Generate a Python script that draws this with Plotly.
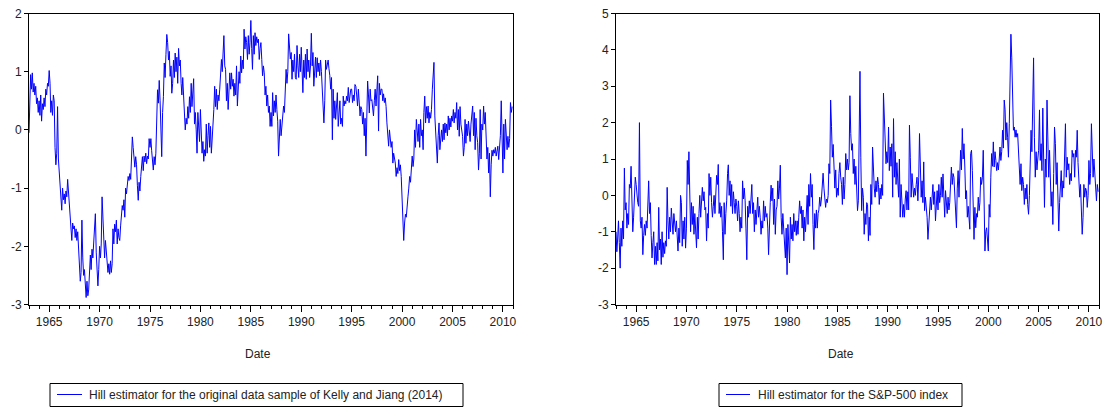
import pandas as pd
import plotly.graph_objects as go

# ---------------- data (monthly readings, Jan 1963 - Dec 2010) ----------------
start_date = "1963-01-01"
obs_freq = "MS"

hill_kelly_jiang = [
    -0.05, 0.85, 0.95, 0.7, 0.98, 0.65, 0.8, 0.6, 0.75, 0.45, 0.55, 0.3,          # 1963
    0.5, 0.25, 0.6, 0.15, 0.45, 0.35, 0.55, 0.4, 0.7, 0.6, 0.8, 0.75,             # 1964
    1.02, 0.8, 0.3, 0.5, 0.25, 0.6, 0.5, -0.3, -0.6, -0.4, 0.4, -0.5,             # 1965
    -0.75, -0.9, -1.05, -1.38, -1.0, -1.2, -1.1, -1.27, -1.05, -1.15, -0.85, -1.1,  # 1966
    -1.15, -1.5, -1.75, -1.9, -1.6, -1.7, -1.65, -1.85, -1.7, -1.9, -1.75, -2.0,  # 1967
    -2.3, -2.6, -2.45, -1.55, -2.2, -2.5, -2.4, -2.7, -2.88, -2.6, -2.85, -2.75,  # 1968
    -2.5, -2.15, -2.4, -2.05, -2.2, -2.0, -1.8, -1.44, -2.1, -2.55, -2.68, -2.4,  # 1969
    -2.0, -2.2, -1.96, -1.15, -1.6, -1.84, -2.2, -1.9, -2.1, -2.2, -2.45, -2.3,   # 1970
    -2.48, -2.25, -2.45, -2.3, -1.7, -1.96, -1.62, -1.75, -1.55, -1.96, -1.7, -1.85,  # 1971
    -1.9, -1.65, -1.45, -1.3, -1.38, -1.2, -1.5, -1.0, -1.1, -0.95, -0.8, -0.87,  # 1972
    -0.75, -0.85, -0.6, -0.12, -0.3, -0.55, -0.64, -0.46, -0.6, -0.95, -1.21, -0.9,  # 1973
    -1.05, -0.8, -0.6, -0.46, -0.7, -0.45, -0.55, -0.4, -0.58, -0.45, -0.5, -0.15,  # 1974
    -0.3, -0.15, -0.35, -0.5, -0.69, -0.46, -0.6, -0.4, 0.1, 0.69, 0.46, 0.85,    # 1975
    0.5, 0.11, -0.46, 0.3, 0.57, 1.15, 0.9, 1.3, 1.64, 1.5, 1.2, 1.35,            # 1976
    0.92, 1.1, 0.63, 0.8, 1.2, 0.9, 1.32, 1.0, 1.25, 0.8, 1.4, 1.1,               # 1977
    1.2, 0.8, 0.6, 0.9, 0.46, 0.29, 0.0, 0.2, 0.1, 0.4, 0.2, 0.57,                # 1978
    0.3, 0.8, 0.4, 0.6, 0.88, 0.1, 0.3, 0.0, -0.4, 0.3, 0.1, -0.2,                # 1979
    0.35, -0.1, -0.4, -0.2, -0.54, -0.34, -0.45, 0.1, -0.4, -0.1, 0.12, -0.3,     # 1980
    0.06, -0.4, -0.2, 0.0, 0.35, 0.75, 0.4, 0.7, 0.35, 0.6, 0.5, 0.7,             # 1981
    0.93, 1.21, 1.0, 1.3, 1.62, 1.1, 1.04, 0.5, 0.8, 0.35, 0.9, 0.98,             # 1982
    0.7, 0.98, 0.75, 0.87, 0.58, 0.8, 0.6, 1.1, 0.41, 0.9, 1.0, 0.8,              # 1983
    1.27, 0.98, 1.2, 1.05, 1.73, 1.39, 1.6, 1.5, 1.21, 1.62, 1.3, 1.5,            # 1984
    1.88, 1.4, 1.04, 1.62, 1.3, 1.67, 1.45, 1.6, 1.5, 1.56, 1.21, 1.4,            # 1985
    1.5, 1.21, 0.93, 1.1, 0.98, 0.6, 0.75, 0.41, 0.6, 0.3, 0.41, 0.06,            # 1986
    0.3, 0.06, 0.64, 0.24, 0.5, 0.3, 0.6, 0.35, 0.15, -0.45, 0.0, 0.18,           # 1987
    -0.1, 0.1, 0.18, 0.41, 0.3, 0.75, 1.04, 0.8, 1.0, 1.65, 1.3, 1.22,            # 1988
    1.33, 0.87, 1.2, 1.0, 1.3, 0.9, 0.87, 1.45, 1.1, 0.9, 1.3, 1.0,               # 1989
    1.42, 1.0, 0.64, 1.2, 0.9, 1.3, 0.87, 1.39, 1.0, 1.2, 0.9, 1.1,               # 1990
    1.66, 1.1, 1.33, 0.75, 1.0, 1.25, 0.9, 1.24, 1.0, 1.15, 0.93, 1.2,            # 1991
    1.0, 0.75, 0.3, 0.12, 0.5, 1.2, 1.04, 1.1, 1.2, 1.05, 0.93, 0.7,              # 1992
    0.9, -0.17, 0.7, 0.2, 0.5, 0.18, 0.4, 0.64, 0.06, 0.3, 0.5, 0.1,              # 1993
    0.2, 0.06, 0.58, 0.41, 0.5, 0.45, 0.58, 0.5, 0.73, 0.47, 0.6, 0.7,            # 1994
    0.7, 0.47, 0.6, 0.5, 0.78, 0.75, 0.6, 0.41, 0.7, 0.5, 0.24, 0.4,              # 1995
    0.35, 0.1, 0.3, -0.1, 0.2, -0.45, 0.0, 0.84, 0.6, 0.29, 0.7, 0.5,             # 1996
    0.52, 0.3, 0.24, 0.5, 0.7, 0.41, 0.6, 0.93, -0.02, 0.8, 0.6, 0.7,             # 1997
    0.7, 0.5, 0.62, 0.47, 0.55, 0.4, 0.12, -0.1, -0.28, 0.0, -0.11, -0.3,         # 1998
    -0.2, -0.57, -0.4, -0.5, -0.57, -0.8, -0.65, -0.75, -0.51, -0.7, -0.6, -0.8,  # 1999
    -1.15, -1.55, -1.9, -1.6, -1.45, -1.5, -1.38, -1.15, -1.0, -0.8, -0.9, -0.6,  # 2000
    -0.45, -0.63, -0.5, 0.0, -0.3, 0.18, -0.1, -0.2, 0.1, -0.3, 0.18, -0.1,       # 2001
    0.0, -0.34, 0.3, 0.58, 0.12, 0.4, 0.2, 0.41, 0.12, 0.3, 0.2, 0.35,            # 2002
    0.7, 0.9, 1.16, 0.24, 0.0, -0.3, -0.57, -0.1, 0.12, -0.34, -0.1, 0.0,         # 2003
    -0.2, 0.1, -0.17, 0.12, -0.05, 0.1, -0.1, 0.24, 0.0, 0.2, 0.05, 0.24,         # 2004
    0.15, 0.35, 0.12, 0.3, 0.2, 0.47, 0.0, 0.35, -0.11, 0.4, 0.1, -0.05,          # 2005
    -0.11, -0.45, -0.3, 0.18, -0.23, 0.1, -0.1, 0.15, 0.0, -0.2, 0.1, 0.3,        # 2006
    0.41, -0.1, 0.3, -0.34, 0.2, -0.1, -0.22, -0.69, -0.4, 0.35, -0.5, 0.1,       # 2007
    0.0, 0.41, 0.1, 0.3, -0.11, -0.5, -0.3, -0.74, -0.4, -1.15, -0.6, -0.35,      # 2008
    -0.45, -0.34, -0.4, -0.3, -0.45, -0.35, -0.28, -0.51, -0.3, -0.1, 0.5, -0.2,  # 2009
    -0.74, 0.1, -0.5, 0.18, -0.2, -0.34, -0.11, -0.3, -0.15, 0.47, 0.3, 0.4,      # 2010
]

hill_sp500 = [
    -1.0, -1.55, -1.2, -0.7, -1.3, -2.0, -0.9, -1.4, -0.7, -1.2, 0.75, -0.4,      # 1963
    -0.2, -0.9, -0.5, -0.8, 0.3, 0.2, 0.8, -0.1, -1.0, -0.6, 0.0, 0.5,            # 1964
    0.3, 0.0, -0.2, -0.3, 2.0, -0.7, -0.9, -0.6, -1.63, -1.1, -0.8, -1.1,         # 1965
    -0.7, -0.9, -0.3, 0.4, -0.5, -0.2, -1.1, -1.72, -1.3, -1.0, -1.9, -1.4,       # 1966
    -1.9, -1.3, -1.8, -0.33, -1.5, -1.2, -1.9, -1.0, -1.7, -1.3, -1.6, -1.25,     # 1967
    -1.4, 0.22, -0.7, -1.2, -0.6, -1.0, -0.35, -0.9, -1.07, -0.5, -0.8, -1.0,     # 1968
    -0.7, -1.2, -1.53, -0.9, -1.3, 0.0, -0.2, -1.4, -0.7, -1.2, -0.6, -1.45,      # 1969
    -0.9, 0.96, 0.3, 1.2, -0.5, -1.0, -0.2, -0.8, -0.3, -1.07, -0.5, -1.2,        # 1970
    -1.44, -0.6, -1.2, -0.5, 0.0, -0.6, -0.3, 0.22, -0.15, 0.1, -0.4, -0.33,      # 1971
    -1.25, -0.5, -0.9, 0.6, 0.0, 0.5, -0.2, -0.6, -0.3, 0.0, -0.5, 0.2,           # 1972
    0.55, 0.3, 0.85, -0.5, -0.2, -0.6, -0.3, -1.0, -1.77, -0.2, -1.07, -0.5,      # 1973
    -0.15, 0.6, 0.84, 0.0, 0.4, -0.3, 0.3, -0.5, 0.1, -0.2, -0.5, -0.1,           # 1974
    -0.3, -0.7, -0.15, -0.5, -1.0, -0.6, -0.9, 0.4, -0.1, 0.2, -0.15, -0.9,       # 1975
    -1.77, -0.3, -0.6, -0.15, -0.5, -0.1, 0.3, -0.5, -0.2, -1.0, -0.4, -0.8,      # 1976
    -0.5, -0.05, -0.6, -0.3, -0.6, -1.07, -0.7, -0.9, -0.15, -0.7, -0.3, -0.6,    # 1977
    -0.5, -0.9, -1.63, -0.6, -0.2, 0.28, -0.15, 0.2, -0.8, -0.1, -1.07, -0.4,     # 1978
    -0.3, 0.4, -0.1, 0.2, 0.83, -0.6, -1.07, -0.5, -0.9, -1.2, -1.72, -0.9,       # 1979
    -2.18, -0.8, -1.5, -1.86, -0.6, -1.2, -0.8, -1.25, -0.5, -1.0, -0.7, -1.1,    # 1980
    -0.7, -1.07, -0.6, -0.15, -0.5, -0.3, -0.9, -0.4, -1.25, -0.6, -1.0, -0.4,    # 1981
    0.0, -0.8, 0.3, -0.3, 0.6, -0.05, 0.3, -0.8, -1.49, -0.5, -0.9, -0.4,         # 1982
    -0.9, -0.5, -0.4, -0.05, -0.3, -0.1, 0.5, 0.61, 0.2, -0.05, -0.33, -0.1,      # 1983
    -0.2, 0.0, 0.87, 0.6, 2.62, 1.9, 1.05, 1.4, 0.5, 0.2, 0.7, -0.05,             # 1984
    0.2, 0.0, 0.6, 0.9, 0.5, 0.3, -0.25, 0.5, -0.1, 0.3, 1.15, 0.7,               # 1985
    1.0, 0.7, 0.9, 2.74, 1.7, 1.24, 1.42, 0.6, 1.0, 0.3, 0.8, 0.3,                # 1986
    -0.42, -0.15, 2.25, 3.41, 1.05, -0.42, 0.2, -0.05, -1.07, -0.5, -0.8, -0.2,   # 1987
    -0.25, -1.25, -0.6, -1.1, 0.3, -0.25, 1.33, 0.5, 0.2, -0.05, 0.4, 0.1,        # 1988
    0.5, 0.3, -0.25, 0.2, -0.1, 0.3, 0.0, 2.81, 1.97, 1.6, 0.87, 1.2,             # 1989
    0.9, 1.88, 0.68, 1.33, 0.8, 1.42, -0.05, 2.11, 0.5, 1.2, 0.3, 0.9,            # 1990
    0.2, -0.05, 1.0, -0.6, 0.3, -0.3, -0.6, -0.25, -0.6, -0.1, 0.13, -0.4,        # 1991
    0.1, -0.4, 1.93, 1.05, -0.05, 0.6, 0.3, -0.05, 0.2, 0.0, 0.3, 0.5,            # 1992
    -0.15, 0.5, 1.7, 0.68, -0.05, 0.4, -0.2, 0.92, -0.42, -0.05, -0.3, -0.6,      # 1993
    -1.21, -0.8, -0.42, -0.05, -0.4, -0.1, 0.3, -0.25, 0.1, -0.7, 0.0, 0.13,      # 1994
    -0.4, 0.3, -0.2, 0.0, 0.5, -0.05, 0.59, 0.1, -0.6, 0.13, -0.3, -0.5,          # 1995
    -0.05, -0.4, -0.2, 0.22, 0.78, 0.3, 0.6, 0.5, 0.0, -0.3, -0.89, 0.2,          # 1996
    0.68, -0.05, 0.4, 1.24, 0.7, 1.84, 1.0, 1.42, 0.78, -0.1, 0.13, -0.6,         # 1997
    -0.3, -0.6, -0.93, 1.15, 1.24, 0.68, -0.8, -1.21, -0.33, -0.89, -0.5, -0.6,   # 1998
    -0.05, -0.42, -0.2, 0.5, 0.3, 0.5, 1.24, -0.8, -1.53, -1.0, -0.89, -1.2,      # 1999
    -1.53, -0.25, -0.6, 0.5, 1.15, 0.8, 1.47, 0.78, 1.2, 0.96, 0.68, 0.9,         # 2000
    0.7, 1.0, 1.33, 0.96, 1.2, 1.79, 1.3, 2.62, 2.35, 1.52, 2.0, 1.6,             # 2001
    1.05, 1.97, 3.27, 4.43, 3.78, 2.35, 1.79, 1.88, 1.6, 1.8, 1.6, 1.7,           # 2002
    1.24, 0.6, 0.3, 0.87, 0.13, 0.5, 0.3, -0.25, 0.2, -0.1, 0.3, -0.25,           # 2003
    -0.52, 0.0, 1.05, 1.79, 1.2, 2.81, 3.78, 1.6, 0.5, 1.2, 0.7, 1.0,             # 2004
    1.24, 2.35, 0.96, 1.42, 0.68, 2.4, 0.9, -0.33, 1.0, 0.5, 2.62, 1.2,           # 2005
    0.5, 1.24, 0.3, -0.3, 0.1, -0.8, 0.6, 1.88, 1.42, 0.3, 0.9, 0.13,             # 2006
    -0.98, -0.2, 0.13, 0.68, -0.05, 0.4, 0.2, 1.0, 1.97, 0.5, 1.05, 0.7,          # 2007
    0.87, 0.3, 0.6, 0.4, 1.24, 1.05, 1.15, 0.5, 1.24, 1.05, 1.79, 0.9,            # 2008
    0.5, -0.05, 0.3, -0.8, -1.07, -0.6, 0.3, -0.05, 0.2, 0.13, -0.33, 0.0,        # 2009
    0.96, 0.3, 0.6, 1.97, 1.42, 0.5, 1.0, 0.7, 0.3, -0.15, 0.3, 0.1,              # 2010
]

left_name = "Hill estimator for the original data sample of Kelly and Jiang (2014)"
right_name = "Hill estimator for the S&P-500 index"
x_title = "Date"
left_yticks = [2, 1, 0, -1, -2, -3]
right_yticks = [5, 4, 3, 2, 1, 0, -1, -2, -3]

# ---------------- figure ----------------
W, H = 1108, 407
FONT = "Arial, 'Liberation Sans', sans-serif"
TXT = "#222222"
LINE_BLUE = "#0000FF"

dates_left = pd.date_range(start_date, periods=len(hill_kelly_jiang), freq=obs_freq)
dates_right = pd.date_range(start_date, periods=len(hill_sp500), freq=obs_freq)


def px_x(p):
    return p / W


def px_y(p):
    return 1 - p / H


fig = go.Figure()
fig.add_trace(go.Scatter(x=dates_left, y=hill_kelly_jiang, mode="lines",
                         line=dict(color=LINE_BLUE, width=1), name=left_name,
                         showlegend=False, xaxis="x", yaxis="y"))
fig.add_trace(go.Scatter(x=dates_right, y=hill_sp500, mode="lines",
                         line=dict(color=LINE_BLUE, width=1), name=right_name,
                         showlegend=False, xaxis="x2", yaxis="y2"))

y_dom = [px_y(304.5), px_y(13.5)]


def xaxis_cfg(dom, anchor):
    return dict(
        domain=dom, anchor=anchor, type="date", range=["1963-01-01", "2011-01-01"],
        tickmode="linear", tick0="1965-01-01", dtick="M60", tickformat="%Y",
        ticks="outside", ticklen=6, tickwidth=1, tickcolor="black",
        minor=dict(tick0="1963-01-01", dtick="M12", ticks="outside", ticklen=3,
                   tickwidth=1, tickcolor="black", showgrid=False),
        showline=True, linecolor="black", linewidth=1, mirror=True,
        showgrid=False, zeroline=False, automargin=False,
        tickfont=dict(family=FONT, size=12, color=TXT), fixedrange=True,
    )


def yaxis_cfg(rng, vals, anchor):
    return dict(
        domain=y_dom, range=rng, tickmode="array", tickvals=vals,
        ticktext=[str(v) for v in vals], anchor=anchor,
        ticks="outside", ticklen=4, tickwidth=1, tickcolor="black",
        showline=True, linecolor="black", linewidth=1, mirror=True,
        showgrid=False, zeroline=False, automargin=False,
        tickfont=dict(family=FONT, size=12, color=TXT), fixedrange=True,
    )


fig.update_layout(
    width=W, height=H,
    margin=dict(l=0, r=0, t=0, b=0),
    paper_bgcolor="white", plot_bgcolor="white",
    font=dict(family=FONT, size=12, color=TXT),
    xaxis=xaxis_cfg([px_x(29), px_x(513)], "y"),
    yaxis=yaxis_cfg([-3, 2], left_yticks, "x"),
    xaxis2=xaxis_cfg([px_x(616), px_x(1099)], "y2"),
    yaxis2=yaxis_cfg([-3, 5], right_yticks, "x2"),
    showlegend=False,
    hovermode=False,
)

# axis titles
for cx in (258, 841):
    fig.add_annotation(x=px_x(cx), y=px_y(354), xref="paper", yref="paper",
                       text=x_title, showarrow=False, xanchor="center", yanchor="middle",
                       font=dict(family=FONT, size=12, color=TXT))

# legend boxes: framed box, short line sample, label
legends = [
    (50, 463, 57, 82, 87, left_name),
    (719, 962, 726, 750, 756, right_name),
]
for bx0, bx1, lx0, lx1, tx, name in legends:
    fig.add_shape(type="rect", xref="paper", yref="paper",
                  x0=px_x(bx0), x1=px_x(bx1), y0=px_y(406.5), y1=px_y(383.5),
                  line=dict(color="black", width=1), fillcolor="white")
    fig.add_shape(type="line", xref="paper", yref="paper",
                  x0=px_x(lx0), x1=px_x(lx1), y0=px_y(394.5), y1=px_y(394.5),
                  line=dict(color=LINE_BLUE, width=1))
    fig.add_annotation(x=px_x(tx), y=px_y(395), xref="paper", yref="paper",
                       text=name, showarrow=False, xanchor="left", yanchor="middle",
                       font=dict(family=FONT, size=12, color=TXT))

fig.write_html("out.html",
               config={"displayModeBar": False, "staticPlot": True},
               post_script="document.body.style.margin='0';document.body.style.overflow='hidden';")
